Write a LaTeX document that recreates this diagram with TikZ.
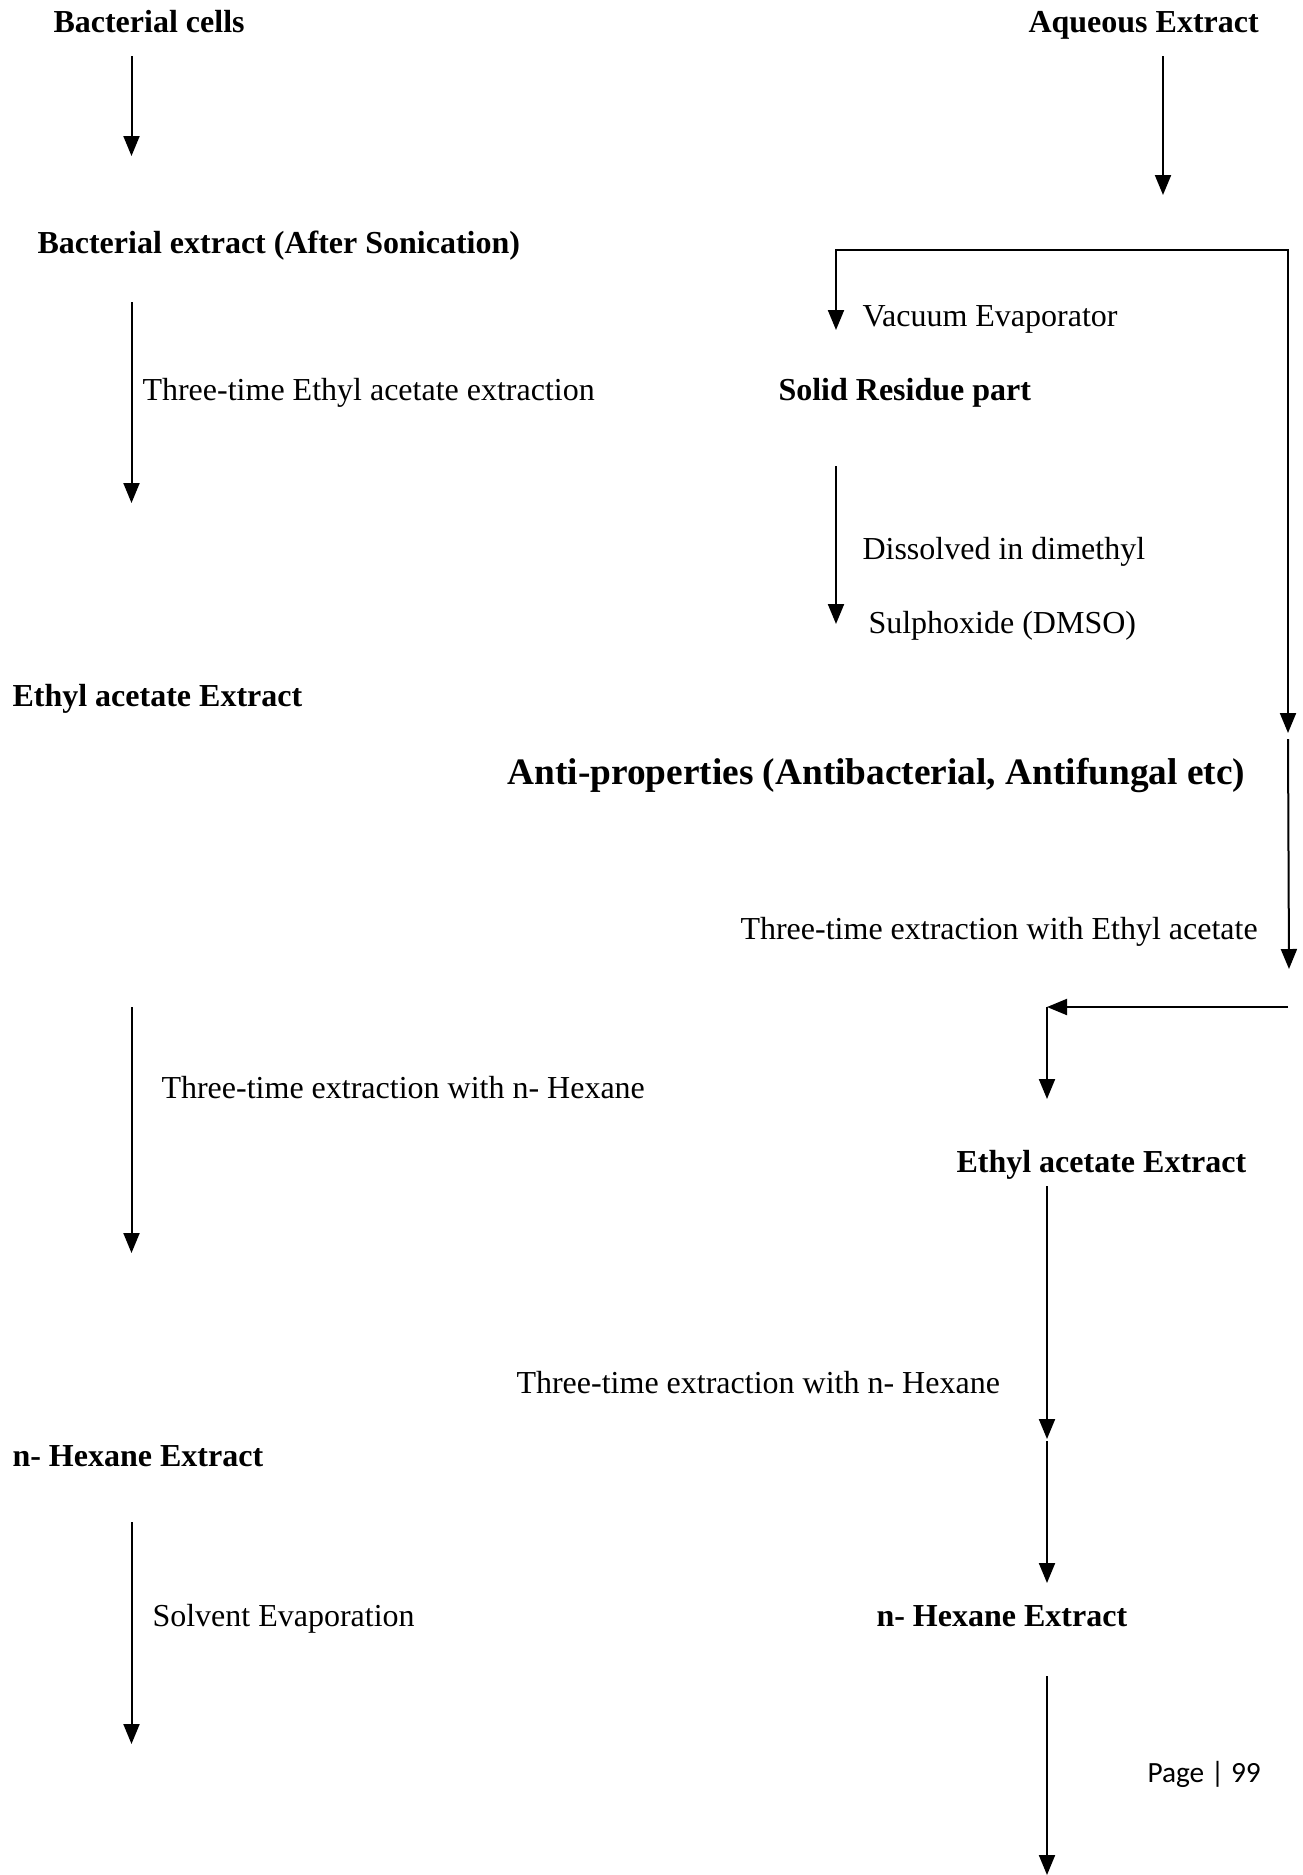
\documentclass[tikz,border=0pt]{standalone}
\usepackage{fontspec}
\setmainfont{Liberation Serif}
\newfontfamily\pagefont{Carlito}
\usetikzlibrary{arrows.meta}
\begin{document}
\begin{tikzpicture}[x=0.375pt,y=-0.375pt,
  lbl/.style={inner sep=0pt, anchor=west, font=\fontsize{12}{14}\selectfont, text height=8pt, text depth=0pt},
  head/.style={lbl, font=\fontsize{12}{14}\selectfont\bfseries},
  big/.style={lbl, font=\fontsize{14}{17}\selectfont\bfseries, text height=9.3pt},
  tipstyle/.style={line width=0.75pt, -{Triangle[width=6pt,length=7.5pt]}},
  twotip/.style={line width=0.75pt, {Triangle[width=6pt,length=7.5pt]}-{Triangle[width=6pt,length=7.5pt]}},
  plain/.style={line width=0.75pt}]
\useasboundingbox (0,0) rectangle (1302,1875);

% left column
\node[head] (bc) at (53,21.5) {Bacterial cells};
\node[head] (be) at (37,243) {Bacterial extract (After Sonication)};
\node[lbl] (l1) at (142,390) {Three-time Ethyl acetate extraction};
\node[head] (eaL) at (12,696) {Ethyl acetate Extract};
\node[lbl] (l2) at (161,1088) {Three-time extraction with n- Hexane};
\node[head] (nhL) at (12,1456) {n- Hexane Extract};
\node[lbl] (l3) at (152,1616) {Solvent Evaporation};

% right column
\node[head] (aq) at (1028,21.5) {Aqueous Extract};
\node[lbl] (vac) at (862,316) {Vacuum Evaporator};
\node[head] (sr) at (778,390) {Solid Residue part};
\node[lbl] (d1) at (862,549) {Dissolved in dimethyl};
\node[lbl] (d2) at (868,623) {Sulphoxide (DMSO)};
\node[big] (anti) at (507,772) {Anti-properties (Antibacterial, Antifungal etc)};
\node[lbl] (l4) at (740,929) {Three-time extraction with Ethyl acetate};
\node[head] (eaR) at (956,1162) {Ethyl acetate Extract};
\node[lbl] (l5) at (516,1383) {Three-time extraction with n- Hexane};
\node[head] (nhR) at (876,1616) {n- Hexane Extract};
\node[anchor=west, inner sep=0pt, font=\pagefont\fontsize{11}{13}\selectfont, text height=7.5pt, text depth=0pt] (pg) at (1147,1772) {Page | 99};

% coordinates
\coordinate (a1s) at (131.5,56);   \coordinate (a1e) at (131.5,156);
\coordinate (a2s) at (131.5,302);  \coordinate (a2e) at (131.5,503);
\coordinate (a3s) at (131.5,1007); \coordinate (a3e) at (131.5,1253);
\coordinate (a4s) at (131.5,1522); \coordinate (a4e) at (131.5,1744);
\coordinate (a5s) at (1163,56);    \coordinate (a5e) at (1163,195);
\coordinate (vtip) at (836,330);   \coordinate (tl) at (836,250);
\coordinate (tr) at (1288,250);    \coordinate (rtip) at (1288,733);
\coordinate (r2s) at (1288,739);   \coordinate (r2e) at (1289,969);
\coordinate (a6s) at (836,466);    \coordinate (a6e) at (836,624);
\coordinate (hs) at (1288,1007);   \coordinate (he) at (1047,1007);
\coordinate (hd) at (1047,1099);
\coordinate (a7s) at (1047,1186);  \coordinate (a7e) at (1047,1439);
\coordinate (a8s) at (1047,1441);  \coordinate (a8e) at (1047,1583);
\coordinate (a9s) at (1047,1676);  \coordinate (a9e) at (1047,1875);

% connectors
\draw[tipstyle] (a1s) -- (a1e);
\draw[tipstyle] (a2s) -- (a2e);
\draw[tipstyle] (a3s) -- (a3e);
\draw[tipstyle] (a4s) -- (a4e);
\draw[tipstyle] (a5s) -- (a5e);
\draw[twotip] (vtip) -- (tl) -- (tr) -- (rtip);
\draw[tipstyle] (r2s) -- (r2e);
\draw[tipstyle] (a6s) -- (a6e);
\draw[tipstyle] (hs) -- (he);
\draw[tipstyle] (he) -- (hd);
\draw[tipstyle] (a7s) -- (a7e);
\draw[tipstyle] (a8s) -- (a8e);
\draw[tipstyle] (a9s) -- (a9e);
\end{tikzpicture}
\end{document}
